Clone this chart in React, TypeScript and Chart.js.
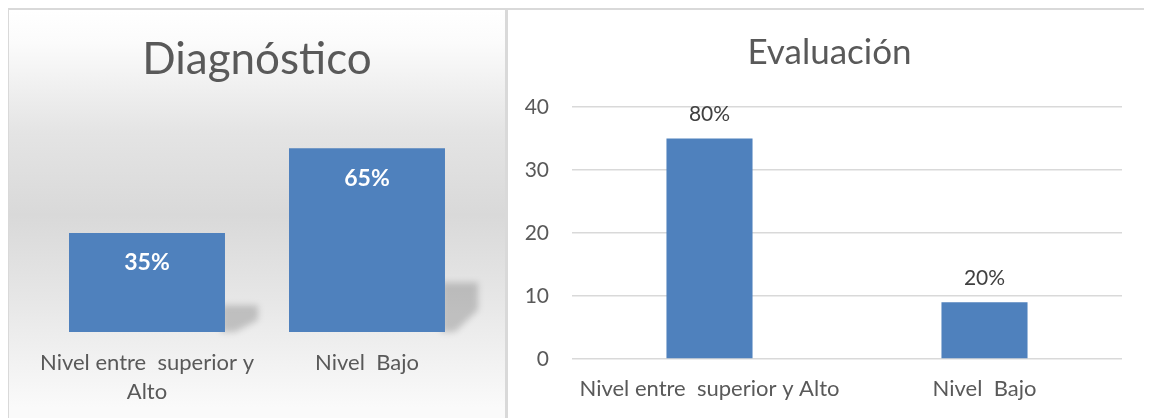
import React, { useEffect, useRef } from "react";
import { Chart, registerables } from "chart.js";

Chart.register(...registerables);

const diagTitle = "Diagnóstico";
const evalTitle = "Evaluación";
const diagCategories: (string | string[])[] = [["Nivel entre  superior y", "Alto"], "Nivel  Bajo"];
const evalCategories: string[] = ["Nivel entre  superior y Alto", "Nivel  Bajo"];
const diagValues: number[] = [35, 65];
const diagLabels: string[] = ["35%", "65%"];
const evalValues: number[] = [35, 9];
const evalLabels: string[] = ["80%", "20%"];
const evalMax = 40;
const evalStep = 10;

const FONT = "Lato, 'Liberation Sans', sans-serif";
const BAR = "#4f81bd";
const TEXT = "#595959";

const shadowPlugin = {
  id: "barShadow",
  beforeDatasetsDraw(chart: any) {
    const ctx = chart.ctx;
    const meta = chart.getDatasetMeta(0);
    ctx.save();
    ctx.filter = "blur(3px)";
    ctx.fillStyle = "rgba(0,0,0,0.18)";
    meta.data.forEach((bar: any) => {
      const right = bar.x + bar.width / 2;
      const h = bar.base - bar.y;
      const top = bar.base - h * 0.27;
      ctx.beginPath();
      ctx.moveTo(right - 4, top);
      ctx.lineTo(right + 33, top);
      ctx.lineTo(right + 33, top + (bar.base - top) * 0.55);
      ctx.lineTo(right + 10, bar.base);
      ctx.lineTo(right - 4, bar.base);
      ctx.closePath();
      ctx.fill();
    });
    ctx.restore();
  },
};

const makeLabelPlugin = (labels: string[], inside: boolean) => ({
  id: "valueLabels",
  afterDatasetsDraw(chart: any) {
    const ctx = chart.ctx;
    const meta = chart.getDatasetMeta(0);
    ctx.save();
    ctx.textAlign = "center";
    ctx.textBaseline = "middle";
    if (inside) {
      ctx.font = `bold 23px ${FONT}`;
      ctx.fillStyle = "#ffffff";
    } else {
      ctx.font = `21px ${FONT}`;
      ctx.fillStyle = "#404040";
    }
    meta.data.forEach((bar: any, i: number) => {
      const y = inside ? bar.y + 30 : bar.y - 24;
      ctx.fillText(labels[i], bar.x, y);
    });
    ctx.restore();
  },
});

// Widen the y-axis label clip area to the canvas edge so labels can sit in the left padding.
const widenAxisPlugin = {
  id: "widenAxis",
  afterLayout(chart: any) {
    const y = chart.scales.y;
    if (y) y.left = 0;
  },
};

function DiagChart() {
  const ref = useRef<HTMLCanvasElement>(null);
  useEffect(() => {
    const chart = new Chart(ref.current as HTMLCanvasElement, {
      type: "bar",
      data: {
        labels: diagCategories as any,
        datasets: [
          {
            data: diagValues,
            backgroundColor: BAR,
            borderWidth: 0,
            barPercentage: 0.709,
            categoryPercentage: 1,
          },
        ],
      },
      options: {
        responsive: false,
        animation: false,
        layout: { padding: { left: 28, right: 28, top: 0, bottom: 0 } },
        plugins: {
          legend: { display: false },
          tooltip: { enabled: false },
          title: {
            display: true,
            text: diagTitle,
            color: TEXT,
            font: { family: FONT, size: 44, weight: "normal" as any, lineHeight: 1.2 },
            padding: { top: 23, bottom: 20 },
          },
        },
        scales: {
          x: {
            afterFit: (scale: any) => {
              scale.height = 88;
            },
            grid: { display: false, drawTicks: false },
            border: { display: false },
            ticks: {
              color: TEXT,
              padding: 16,
              maxRotation: 0,
              autoSkip: false,
              font: { family: FONT, size: 22, lineHeight: 1.32 },
            },
          },
          y: {
            display: false,
            min: 0,
            max: 80,
          },
        },
      },
      plugins: [shadowPlugin, makeLabelPlugin(diagLabels, true)],
    });
    return () => chart.destroy();
  }, []);
  return <canvas ref={ref} width={496} height={410} style={{ display: "block" }} />;
}

function EvalChart() {
  const ref = useRef<HTMLCanvasElement>(null);
  useEffect(() => {
    const chart = new Chart(ref.current as HTMLCanvasElement, {
      type: "bar",
      data: {
        labels: evalCategories,
        datasets: [
          {
            data: evalValues,
            backgroundColor: BAR,
            borderWidth: 0,
            barPercentage: 0.313,
            categoryPercentage: 1,
          },
        ],
      },
      options: {
        responsive: false,
        animation: false,
        layout: { padding: { left: 29, right: 29, top: 0, bottom: 0 } },
        plugins: {
          legend: { display: false },
          tooltip: { enabled: false },
          title: {
            display: true,
            text: evalTitle,
            color: TEXT,
            font: { family: FONT, size: 35, weight: "normal" as any, lineHeight: 1.2 },
            padding: { top: 22, bottom: 33 },
          },
        },
        scales: {
          x: {
            afterFit: (scale: any) => {
              scale.height = 61;
            },
            grid: { display: false, drawTicks: false },
            border: { display: false },
            ticks: {
              color: TEXT,
              padding: 17,
              maxRotation: 0,
              autoSkip: false,
              font: { family: FONT, size: 22 },
            },
          },
          y: {
            min: 0,
            max: evalMax,
            afterFit: (scale: any) => {
              scale.width = 35;
            },
            grid: { color: "#d9d9d9", lineWidth: 1.5, drawTicks: false },
            border: { display: false },
            ticks: {
              stepSize: evalStep,
              color: TEXT,
              padding: 23,
              font: { family: FONT, size: 21 },
            },
          },
        },
      },
      plugins: [widenAxisPlugin, makeLabelPlugin(evalLabels, false)],
    });
    return () => chart.destroy();
  }, []);
  return <canvas ref={ref} width={643} height={410} style={{ display: "block" }} />;
}

export default function App() {
  return (
    <div style={{ position: "relative", width: 1152, height: 418 }}>
      <div
        style={{
          position: "absolute",
          left: -1,
          top: 0,
          width: 501,
          height: 412,
          boxSizing: "border-box",
          borderTop: "2px solid #d9d9d9",
          borderLeft: "2px solid #d9d9d9",
          borderRight: "3px solid #d9d9d9",
          background:
            "linear-gradient(to bottom, #ffffff 0%, #fbfbfb 8%, #e4e4e4 30%, #d9d9d9 50%, #e6e6e6 70%, #fafafa 97%)",
        }}
      >
        <DiagChart />
      </div>
      <div
        style={{
          position: "absolute",
          left: 500,
          top: 0,
          width: 644,
          height: 412,
          boxSizing: "border-box",
          borderTop: "2px solid #d9d9d9",
          borderRight: "1px solid #d9d9d9",
          background: "#ffffff",
        }}
      >
        <EvalChart />
      </div>
    </div>
  );
}
